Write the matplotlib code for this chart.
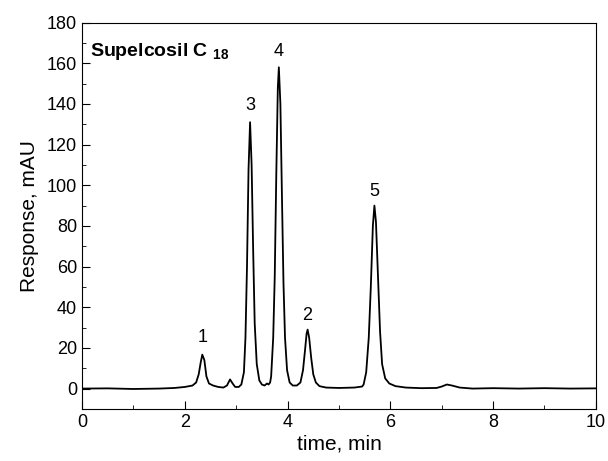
import matplotlib
matplotlib.use("Agg")
import matplotlib.pyplot as plt
from matplotlib.ticker import MultipleLocator

params = {
    "font.family": ["Liberation Sans", "DejaVu Sans"],
    "mathtext.fontset": "custom",
    "mathtext.rm": "Liberation Sans",
    "mathtext.bf": "Liberation Sans:bold",
    "xtick.direction": "in",
    "ytick.direction": "in",
}
plt.rcParams.update(params)

# chromatogram trace (time in min, response in mAU)
time = [0.0, 0.5, 1.0, 1.5, 1.8, 2.0, 2.15, 2.22, 2.27, 2.31, 2.34, 2.38,
        2.42, 2.47, 2.55, 2.65, 2.75, 2.82, 2.88, 2.93, 2.98, 3.05,
        3.10, 3.15, 3.18, 3.21, 3.24, 3.27, 3.30, 3.33, 3.36, 3.40, 3.45,
        3.50, 3.55, 3.60, 3.63, 3.66,
        3.68, 3.72, 3.75, 3.78, 3.81, 3.83, 3.86, 3.89, 3.92, 3.95, 3.99,
        4.04, 4.10, 4.18,
        4.25, 4.30, 4.34, 4.37, 4.39, 4.42, 4.46, 4.50, 4.55, 4.62, 4.75,
        5.0, 5.3, 5.45,
        5.48, 5.53, 5.58, 5.62, 5.66, 5.69, 5.72, 5.76, 5.80, 5.84, 5.90,
        5.98, 6.1, 6.3, 6.6, 6.9, 7.0, 7.1, 7.2, 7.35, 7.6, 8.0, 8.5, 9.0,
        9.5, 10.0]
response = [0.0, 0.1, -0.2, 0.0, 0.3, 0.8, 1.5, 3.0, 7.0, 13.0, 16.7, 14.0,
            6.0, 2.5, 1.5, 0.8, 0.5, 1.5, 4.5, 2.5, 0.8, 0.8,
            2.0, 8.0, 25.0, 60.0, 108.0, 131.0, 110.0, 68.0, 32.0, 12.0, 4.0,
            2.0, 1.5, 2.5, 2.0, 3.0,
            6.0, 25.0, 55.0, 105.0, 148.0, 158.0, 140.0, 95.0, 52.0, 25.0, 9.0,
            3.0, 1.5, 1.5,
            3.0, 9.0, 19.0, 27.0, 29.0, 25.0, 15.0, 7.0, 3.0, 1.2, 0.5,
            0.3, 0.5, 1.0,
            2.0, 8.0, 25.0, 50.0, 80.0, 90.0, 82.0, 55.0, 28.0, 12.0, 5.0,
            2.5, 1.2, 0.5, 0.2, 0.3, 1.0, 2.0, 1.5, 0.5, 0.0, 0.2, 0.0, 0.2,
            0.0, 0.1]

peak_labels = ["1", "3", "4", "2", "5"]
peak_times = [2.34, 3.27, 3.83, 4.39, 5.69]
label_heights = [25, 139, 166, 36, 97]

fig = plt.figure(figsize=(6.08, 4.61), dpi=100)
ax = fig.add_axes([0.135, 0.113, 0.845, 0.838])

ax.plot(time, response, color="black", lw=1.3)

for lab, t, h in zip(peak_labels, peak_times, label_heights):
    ax.text(t, h, lab, ha="center", va="center", fontsize=13)

ax.text(0.016, 0.925, r"Supelcosil C $_{\mathbf{18}}$", transform=ax.transAxes,
        fontsize=14, fontweight="bold", ha="left", va="center")

ax.set_xlim(0, 10)
ax.set_ylim(-10, 180)
ax.xaxis.set_major_locator(MultipleLocator(2))
ax.xaxis.set_minor_locator(MultipleLocator(1))
ax.yaxis.set_major_locator(MultipleLocator(20))
ax.yaxis.set_minor_locator(MultipleLocator(10))
ax.tick_params(which="major", length=6, labelsize=13)
ax.tick_params(which="minor", length=3)
ax.set_xlabel("time, min", fontsize=15, labelpad=3)
ax.set_ylabel("Response, mAU", fontsize=15, labelpad=6)

plt.savefig("out.png", dpi=100)
